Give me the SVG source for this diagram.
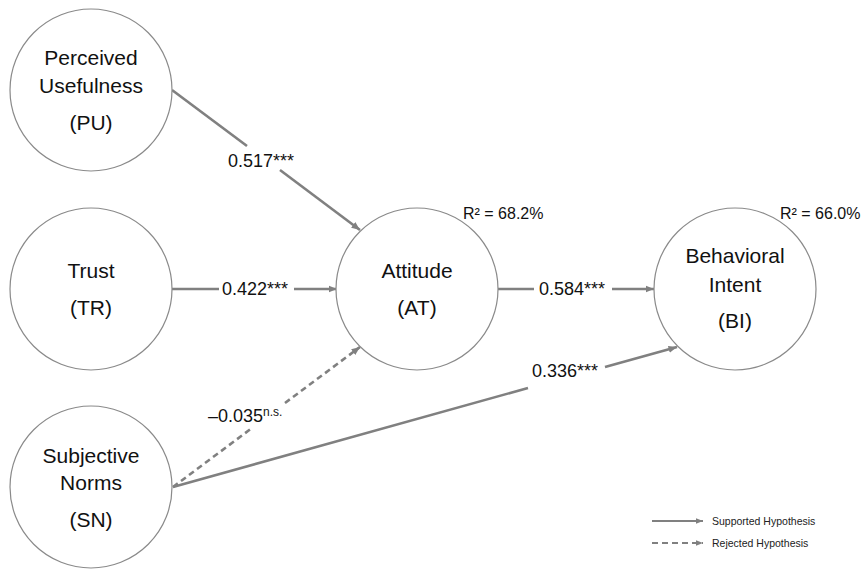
<svg xmlns="http://www.w3.org/2000/svg" width="863" height="569" viewBox="0 0 863 569">
<defs>
<style>
.node circle{fill:#fff;stroke:#8a8a8a;stroke-width:1.2}
.nt{font-family:"Liberation Sans",Arial,sans-serif;font-size:21px;fill:#111;text-anchor:middle}
.el{font-family:"Liberation Sans",Arial,sans-serif;font-size:18px;fill:#111}
.r2{font-family:"Liberation Sans",Arial,sans-serif;font-size:16px;fill:#111}
.lg{font-family:"Liberation Sans",Arial,sans-serif;font-size:10.5px;fill:#222}
.e{stroke:#808080;stroke-width:2.6;fill:none}
.d{stroke-dasharray:6 4}
.lge{stroke:#808080;stroke-width:2;fill:none}
</style>
<marker id="ah" markerUnits="userSpaceOnUse" markerWidth="9" markerHeight="8" refX="8.5" refY="4" orient="auto">
<path d="M0,0.5 L8.5,4 L0,7.5 z" fill="#808080"/>
</marker>
<marker id="ahs" markerUnits="userSpaceOnUse" markerWidth="8" markerHeight="7" refX="7.5" refY="3.5" orient="auto">
<path d="M0,0.5 L7.5,3.5 L0,6.5 z" fill="#808080"/>
</marker>
</defs>
<rect width="863" height="569" fill="#fff"/>

<g id="connectors">
<line class="e" x1="172" y1="90" x2="247" y2="146"/>
<line class="e" x1="280" y1="170" x2="360" y2="230" marker-end="url(#ah)"/>
<text class="el" x="261" y="167" text-anchor="middle">0.517***</text>

<line class="e" x1="172" y1="289" x2="219" y2="289"/>
<line class="e" x1="294" y1="289" x2="337" y2="289" marker-end="url(#ah)"/>
<text class="el" x="255" y="295" text-anchor="middle">0.422***</text>

<line class="e" x1="498" y1="289" x2="534" y2="289"/>
<line class="e" x1="612" y1="289" x2="654" y2="289" marker-end="url(#ah)"/>
<text class="el" x="572" y="295" text-anchor="middle">0.584***</text>

<line class="e" x1="173" y1="487" x2="528" y2="388"/>
<line class="e" x1="605" y1="367" x2="677" y2="347" marker-end="url(#ah)"/>
<text class="el" x="565" y="377" text-anchor="middle">0.336***</text>

<line class="e d" x1="173" y1="487" x2="252" y2="428"/>
<line class="e d" x1="285" y1="403" x2="360" y2="347" marker-end="url(#ah)"/>
<text class="el" x="208" y="422">–0.035<tspan font-size="12" dy="-6">n.s.</tspan></text>
</g>

<g id="PU" class="node">
<circle cx="91" cy="90" r="81"/>
<text class="nt" x="91" y="65">Perceived</text>
<text class="nt" x="91" y="93">Usefulness</text>
<text class="nt" x="91" y="130">(PU)</text>
</g>

<g id="TR" class="node">
<circle cx="91" cy="289" r="81"/>
<text class="nt" x="91" y="278">Trust</text>
<text class="nt" x="91" y="315">(TR)</text>
</g>

<g id="SN" class="node">
<circle cx="91" cy="487" r="81"/>
<text class="nt" x="91" y="463">Subjective</text>
<text class="nt" x="91" y="490">Norms</text>
<text class="nt" x="91" y="527">(SN)</text>
</g>

<g id="AT" class="node">
<circle cx="417" cy="289" r="81"/>
<text class="nt" x="417" y="278">Attitude</text>
<text class="nt" x="417" y="315">(AT)</text>
<text class="r2" x="463" y="219">R² = 68.2%</text>
</g>

<g id="BI" class="node">
<circle cx="735" cy="289" r="81"/>
<text class="nt" x="735" y="263">Behavioral</text>
<text class="nt" x="735" y="292">Intent</text>
<text class="nt" x="735" y="328">(BI)</text>
<text class="r2" x="780" y="219">R² = 66.0%</text>
</g>

<g id="legend">
<line class="lge" x1="652" y1="521" x2="703" y2="521" marker-end="url(#ahs)"/>
<text class="lg" x="712" y="524.5">Supported Hypothesis</text>
<line class="lge d" x1="652" y1="543" x2="703" y2="543" marker-end="url(#ahs)"/>
<text class="lg" x="712" y="546.5">Rejected Hypothesis</text>
</g>
</svg>
